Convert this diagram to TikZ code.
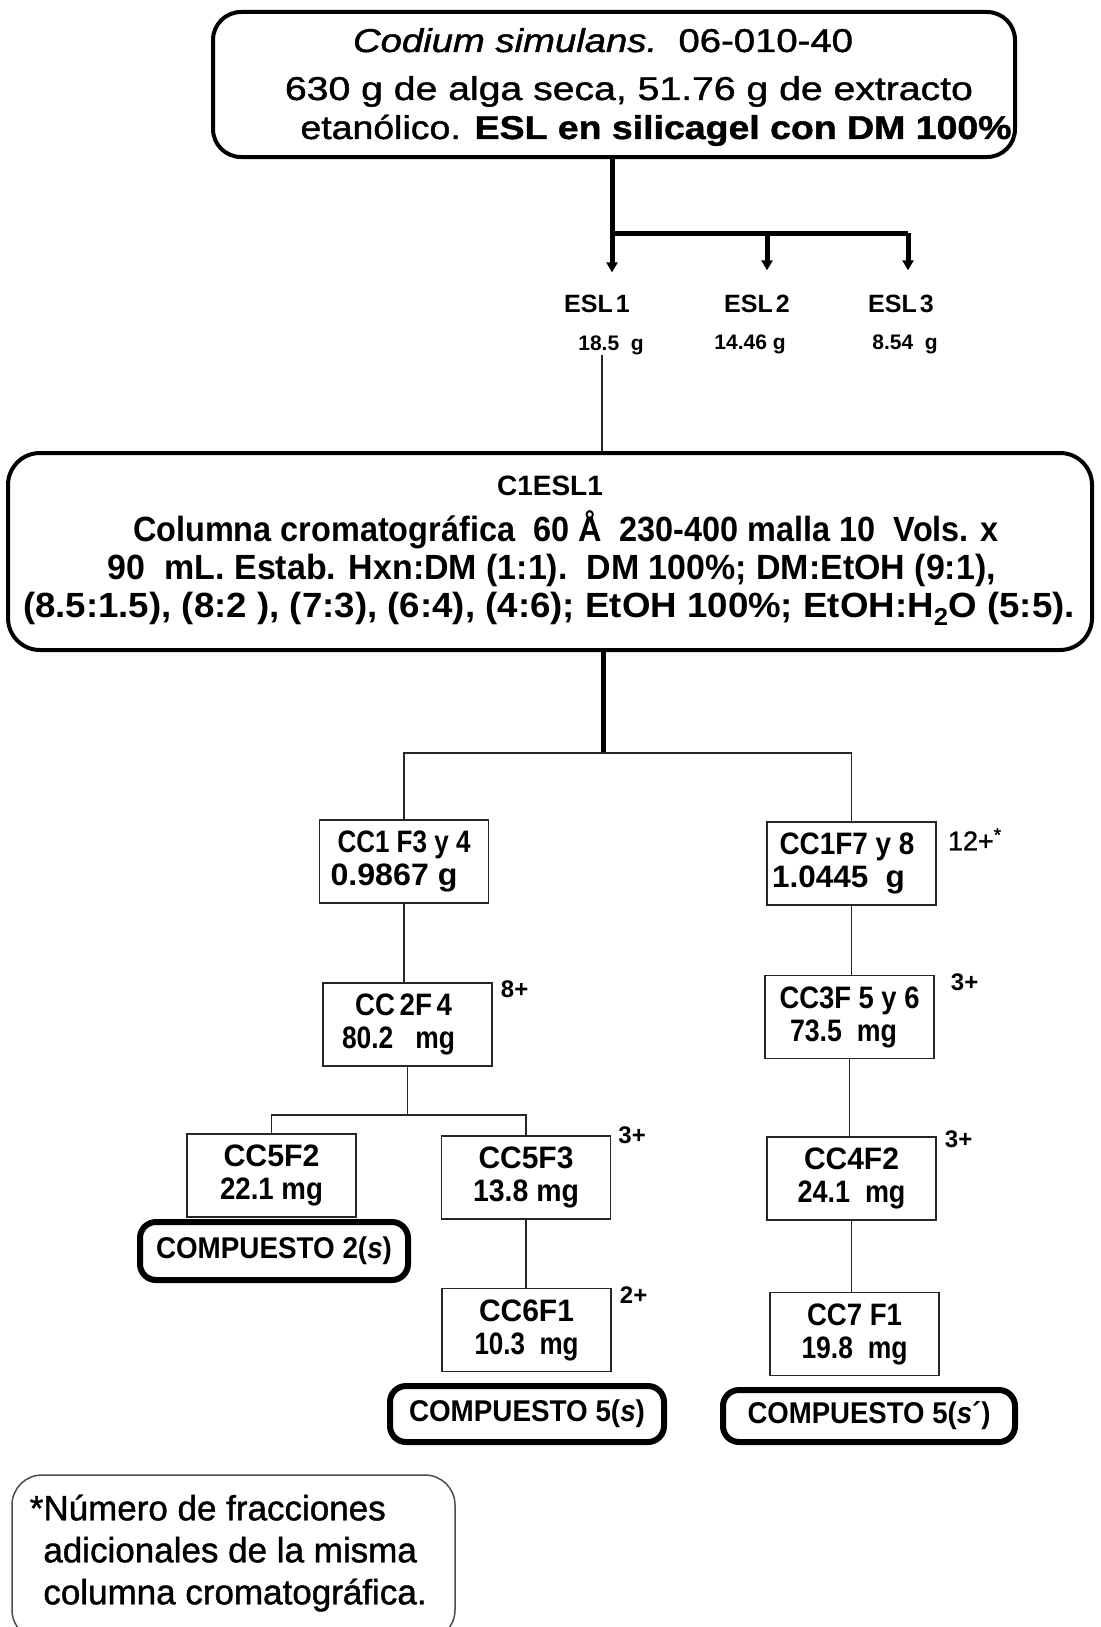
\documentclass[tikz,border=0pt]{standalone}
\usepackage{fontspec}
\setmainfont{Liberation Sans}
\newfontfamily\semib[FakeBold=1.2]{Liberation Sans}
\usepackage{graphicx}
\usetikzlibrary{arrows.meta}
\newsavebox\swbox
\newlength\swlen
\newcommand\sw[2]{\sbox\swbox{#2}\setlength\swlen{\wd\swbox}\pgfmathsetmacro\swf{#1/\swlen}\scalebox{\swf}[1]{\usebox\swbox}}
\tikzset{
  bigbox/.style={draw, line width=4pt, rounded corners=28pt, inner sep=0pt},
  cbox/.style={draw=black!85, line width=1.5pt, inner sep=0pt, minimum width=169pt, minimum height=83pt, align=center, font=\bfseries\fontsize{31}{33}\selectfont},
  compbox/.style={draw, line width=6pt, rounded corners=16pt, inner sep=0pt, font=\bfseries\fontsize{30}{30}\selectfont},
  conn/.style={line width=1.5pt, draw=black!85},
  thickc/.style={line width=5pt},
  arr/.style={line width=5pt, -{Triangle[length=10pt,width=11pt]}},
  plus/.style={anchor=west, inner sep=0pt, font=\bfseries\fontsize{24}{24}\selectfont},
  txt/.style={inner sep=0pt, anchor=base},
  hdrfont/.style={font=\semib\fontsize{33}{36}\selectfont},
  cfont/.style={font=\bfseries\fontsize{35}{36}\selectfont},
  esl/.style={txt, font=\bfseries\fontsize{25}{25}\selectfont},
  eslv/.style={txt, font=\bfseries\fontsize{21}{21}\selectfont},
}
\begin{document}
\begin{tikzpicture}[x=1pt, y=-1pt]
\useasboundingbox (0,0) rectangle (1100,1627);
\fill[white] (0,0) rectangle (1100,1627);
\clip (0,0) rectangle (1100,1627);

% header box
\node[bigbox, minimum width=802pt, minimum height=145pt] (hdr) at (614,84.5) {};
\node[txt, hdrfont] (h1) at (603,52) {\sw{500}{\itshape Codium simulans.\upshape\ \ 06-010-40}};
\node[txt, hdrfont] (h2) at (629,100) {\sw{688}{630 g de alga seca, 51.76 g de extracto}};
\node[txt, hdrfont] (h3) at (656,139) {\sw{711}{etanólico. \bfseries ESL en silicagel con DM 100\%}};

% ESL fractions
\node[esl] (e1) at (597,312) {ESL\hspace{3pt}1};
\node[esl] (e2) at (757,312) {ESL\hspace{3pt}2};
\node[esl] (e3) at (901,312) {ESL\hspace{3pt}3};
\node[eslv] (v1) at (611,350) {18.5\ \ g};
\node[eslv] (v2) at (750,349) {14.46 g};
\node[eslv] (v3) at (905,349) {8.54\ \ g};

\coordinate (j1) at (612,233);
\coordinate (j2) at (767,233);
\coordinate (j3) at (908,233);
\draw[thickc] (j1 |- hdr.south) -- (j1) -- (j3);
\draw[arr, shorten >=22pt] (j1) -- (j1 |- e1.north);
\draw[arr, shorten >=24pt] (j2) -- (j2 |- e2.north);
\draw[arr, shorten >=24pt] (j3) -- (j3 |- e3.north);

% C1ESL1 box
\node[bigbox, rounded corners=32pt, minimum width=1084pt, minimum height=197pt] (c1) at (550,551.5) {};
\node[txt, font=\bfseries\fontsize{28}{28}\selectfont] (c1t) at (550,495) {C1ESL1};
\node[txt, cfont] (c1a) at (566,541) {\sw{866}{Columna cromatográfica\ \ 60 Å\ \ 230-400 malla 10\ \ Vols. x}};
\node[txt, cfont] (c1b) at (552,579) {\sw{888}{90\ \ mL. Estab. Hxn:DM (1:1).\ \ DM 100\%; DM:EtOH (9:1),}};
\node[txt, cfont] (c1c) at (549,617) {\sw{1052}{(8.5:1.5), (8:2 ), (7:3), (6:4), (4:6); EtOH 100\%; EtOH:H\textsubscript{2}O (5:5).}};

\draw[conn] ([xshift=-9pt]v1.south) -- ([xshift=-9pt]v1.south |- c1.north);

% fraction boxes
\node[cbox] (b1) at (404,861.5) {\sw{133}{CC1 F3 y 4}\\\sw{127}{0.9867 g}\hspace*{20pt}};
\node[cbox] (b2) at (851.5,863.5) {\sw{135}{CC1F7 y 8}\hspace*{9pt}\\\sw{133}{1.0445\ \ g}\hspace*{26pt}};
\node[cbox] (b3) at (407.5,1024.5) {\sw{97}{CC\,2F\,4}\hspace*{8pt}\\\sw{113}{80.2\ \ \ mg}\hspace*{18pt}};
\node[cbox] (b4) at (849.5,1017) {\sw{140}{CC3F 5 y 6}\\\sw{107}{73.5\ \ mg}\hspace*{12pt}};
\node[cbox] (b5) at (271.5,1175.5) {\sw{96}{CC5F2}\\\sw{103}{22.1 mg}};
\node[cbox] (b6) at (526,1177.5) {\sw{95}{CC5F3}\\\sw{106}{13.8 mg}};
\node[cbox] (b7) at (851.5,1178.5) {\sw{95}{CC4F2}\\\sw{108}{24.1\ \ mg}};
\node[cbox] (b8) at (526.5,1330) {\sw{95}{CC6F1}\\\sw{104}{10.3\ \ mg}};
\node[cbox] (b9) at (854.5,1334) {\sw{95}{CC7 F1}\\\sw{106}{19.8\ \ mg}};

% additional fraction counts
\node[plus, font=\semib\fontsize{27}{27}\selectfont] (p1) at ([shift={(11,18)}]b2.north east) {12+\textsuperscript{*}};
\node[plus] (p2) at ([shift={(8,7)}]b3.north east) {8+};
\node[plus] (p3) at ([shift={(16,7)}]b4.north east) {3+};
\node[plus] (p4) at ([shift={(7,0)}]b6.north east) {3+};
\node[plus] (p5) at ([shift={(8,3)}]b7.north east) {3+};
\node[plus] (p6) at ([shift={(8,7)}]b8.north east) {2+};

% connectors
\coordinate (jn) at (603,753);
\draw[thickc] (jn |- c1.south) -- (jn);
\draw[conn] (b1.north) |- (jn) -| (b2.north);
\draw[conn] (b1.south) -- (b1.south |- b3.north);
\draw[conn] (b2.south) -- (b2.south |- b4.north);
\draw[conn] (b3.south) -- ++(0,48) coordinate (js);
\draw[conn] (b5.north) |- (js) -| (b6.north);
\draw[conn] (b6.south) -- (b6.south |- b8.north);
\draw[conn] (b4.south) -- (b4.south |- b7.north);
\draw[conn] (b7.south) -- (b7.south |- b9.north);

% compounds
\node[compbox, minimum width=268pt, minimum height=58pt] (k1) at (274,1251) {\sw{236}{COMPUESTO 2(\textit{s})}};
\node[compbox, minimum width=274pt, minimum height=56pt] (k2) at (527,1414) {\sw{236}{COMPUESTO 5(\textit{s})}};
\node[compbox, minimum width=292pt, minimum height=52pt] (k3) at (869,1416) {\sw{243}{COMPUESTO 5(\textit{s}´)}};

% footnote
\node[draw=black!70, line width=1.5pt, rounded corners=30pt, minimum width=443pt, minimum height=165pt, inner sep=0pt] (fbx) at (233.5,1557.5) {};
\node[inner sep=0pt, align=left, font=\semib\fontsize{35}{42}\selectfont] (fn) at (235,1553) {\llap{*}Número de fracciones\\adicionales de la misma\\columna cromatográfica.};
\end{tikzpicture}
\end{document}
